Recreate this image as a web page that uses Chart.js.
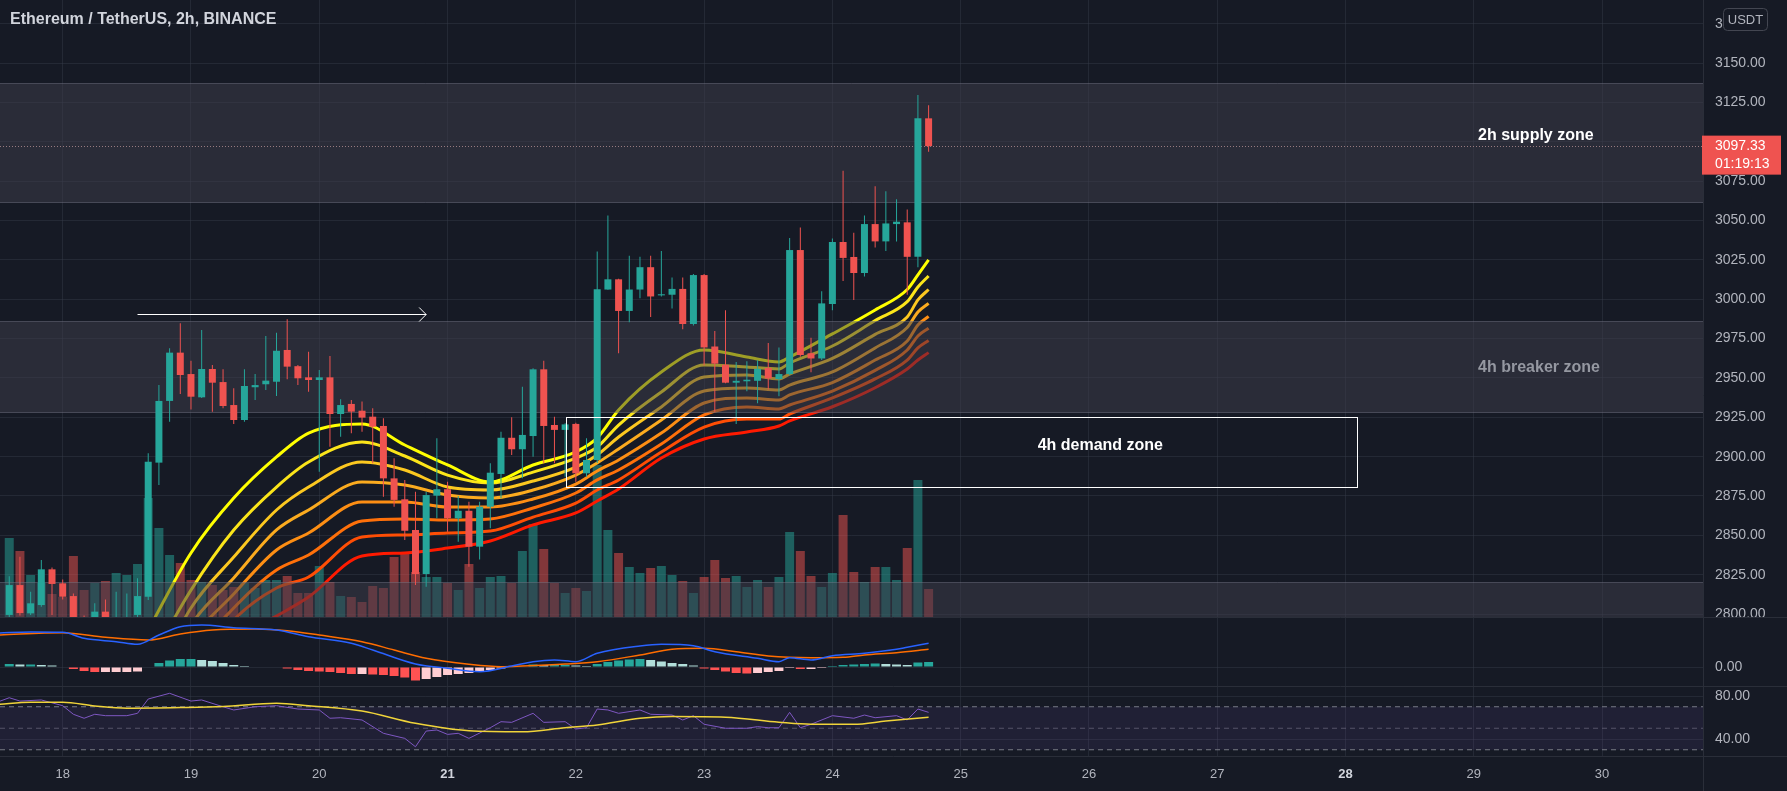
<!DOCTYPE html>
<html>
<head>
<meta charset="utf-8">
<title>ETHUSDT 2h</title>
<script src="https://cdn.jsdelivr.net/npm/chart.js@4.4.1/dist/chart.umd.min.js"></script>
<style>
  html, body { margin: 0; padding: 0; background: #161a25; overflow: hidden; }
  canvas { display: block; }
</style>
</head>
<body>
<canvas id="chart" width="1787" height="791"></canvas>
<script>
// 2h bars, bar 0 = the 18th 00:00, one step = one bar
const firstBar = -5;

const opens = [
  2799.4, 2818.4, 2800.4, 2805.7, 2828.4, 2819.5, 2811.4, 2797.0, 2797.0, 2801.5, 2792.0, 2794.0, 2799.4,
  2811.0, 2896.2, 2935.4, 2966.1, 2952.5, 2937.7, 2955.7, 2947.4, 2932.8, 2923.3, 2944.1, 2946.0, 2947.6,
  2967.8, 2957.5, 2950.4, 2948.7, 2950.4, 2927.1, 2933.5, 2929.2, 2925.4, 2919.5, 2886.2, 2872.9, 2853.4,
  2825.4, 2875.2, 2879.3, 2860.8, 2865.6, 2842.8, 2868.2, 2889.0, 2912.0, 2904.7, 2913.1, 2955.5, 2920.1,
  2917.0, 2920.8, 2889.4, 2897.9, 3006.2, 3012.7, 2992.6, 3006.2, 3020.4, 3002.5, 3002.9, 3006.6, 2984.3,
  3015.4, 2970.0, 2958.4, 2947.0, 2947.9, 2948.2, 2956.3, 2949.3, 2952.5, 3031.3, 2965.7, 2962.4, 2997.0,
  3036.4, 3026.9, 3016.7, 3047.8, 3036.8, 3047.8, 3048.9, 3027.0, 3115.0
];
const highs = [
  2824.0, 2836.4, 2814.2, 2834.3, 2829.5, 2822.0, 2813.1, 2799.0, 2806.8, 2809.3, 2814.2, 2813.0, 2822.7,
  2902.1, 2945.5, 2968.9, 2984.8, 2961.0, 2980.5, 2958.3, 2955.5, 2943.4, 2955.5, 2952.5, 2976.7, 2978.8,
  2987.3, 2958.3, 2966.7, 2955.1, 2964.0, 2936.5, 2936.0, 2935.0, 2930.7, 2924.4, 2899.0, 2885.2, 2877.7,
  2877.7, 2911.7, 2884.0, 2875.0, 2871.4, 2871.4, 2895.8, 2915.9, 2925.0, 2944.5, 2956.2, 2961.0, 2925.4,
  2921.2, 2921.6, 2911.7, 3030.3, 3053.3, 3013.0, 3027.6, 3027.0, 3027.6, 3030.7, 3013.9, 3013.9, 3016.1,
  3016.0, 2979.9, 2993.1, 2960.2, 2960.7, 2961.3, 2972.2, 2969.4, 3039.0, 3045.6, 2975.5, 3005.1, 3038.6,
  3081.7, 3042.3, 3053.3, 3071.8, 3068.6, 3063.5, 3057.0, 3129.9, 3123.3
];
const lows = [
  2797.0, 2799.0, 2799.4, 2804.6, 2799.4, 2809.3, 2794.0, 2786.0, 2794.0, 2795.0, 2789.0, 2790.0, 2797.0,
  2808.9, 2882.0, 2922.2, 2939.8, 2930.0, 2937.3, 2928.6, 2930.7, 2920.8, 2922.2, 2936.0, 2942.4, 2938.5,
  2949.2, 2945.5, 2941.3, 2890.4, 2906.3, 2912.7, 2914.9, 2915.9, 2895.8, 2874.5, 2868.2, 2847.0, 2818.4,
  2817.3, 2860.8, 2852.3, 2846.0, 2830.0, 2834.7, 2854.5, 2873.5, 2901.0, 2886.2, 2900.0, 2895.8, 2895.8,
  2887.2, 2884.0, 2887.2, 2896.0, 3006.0, 2965.7, 2985.4, 3000.7, 2988.7, 3001.8, 2994.2, 2981.0, 2983.3,
  2958.0, 2928.5, 2946.7, 2920.8, 2941.6, 2934.0, 2942.7, 2938.4, 2951.7, 2963.5, 2953.7, 2961.5, 2993.1,
  3011.6, 2999.6, 3014.5, 3032.9, 3030.7, 3036.8, 3002.9, 3020.4, 3093.8
];
const closes = [
  2818.4, 2800.6, 2806.8, 2828.4, 2819.1, 2811.0, 2797.0, 2790.0, 2801.5, 2798.0, 2797.0, 2797.5, 2811.4,
  2896.8, 2935.4, 2966.1, 2951.9, 2938.1, 2955.7, 2947.0, 2932.2, 2923.3, 2944.9, 2945.5, 2948.3, 2967.3,
  2957.2, 2949.8, 2948.7, 2950.4, 2927.1, 2932.8, 2928.6, 2924.8, 2919.0, 2886.2, 2872.5, 2852.9, 2825.4,
  2875.6, 2879.3, 2860.8, 2865.6, 2842.8, 2868.2, 2889.8, 2912.0, 2904.7, 2913.8, 2955.5, 2919.5, 2917.0,
  2920.5, 2889.4, 2897.9, 3006.4, 3012.7, 2992.6, 3006.2, 3020.4, 3001.8, 3003.2, 3006.6, 2984.3, 3015.4,
  2969.4, 2959.1, 2947.0, 2948.2, 2948.9, 2955.8, 2949.7, 2952.5, 3031.3, 2964.6, 2962.4, 2997.4, 3036.4,
  3026.3, 3016.7, 3047.8, 3036.8, 3048.2, 3049.3, 3027.0, 3115.0, 3097.33
];
const volumes = [
  79, 66, 42, 34, 23, 20, 61, 27, 34, 36, 44, 42, 53, 119, 89, 62, 54, 37, 35, 32, 27, 30, 34, 29, 37, 37,
  41, 24, 24, 51, 35, 21, 20, 15, 31, 29, 60, 63, 45, 40, 40, 34, 27, 53, 29, 40, 41, 34, 66, 93, 68, 34,
  24, 29, 26, 152, 87, 64, 50, 44, 49, 51, 42, 36, 24, 40, 57, 39, 41, 30, 37, 30, 40, 85, 66, 41, 30, 44,
  102, 45, 35, 50, 50, 37, 69, 137, 28
];

// EMA ribbon (8 lines, fastest first), read at these bars
const ribbonBars = [8, 12, 16, 20, 23, 28, 32, 36, 40, 44, 48, 50, 52, 56, 60, 64, 67, 68, 72, 76, 79, 80, 81];
const ema1 = [2789.8, 2838.8, 2873.7, 2899.8, 2915.0, 2920.8, 2907.4, 2894.7, 2883.9, 2894.7, 2903.0, 2911.9, 2929.7, 2953.8, 2967.8, 2963.3, 2960.2, 2963.3, 2978.0, 2993.2, 3006.2, 3015.5, 3025.0];
const ema2 = [2767.6, 2815.2, 2853.4, 2880.7, 2896.6, 2909.3, 2900.4, 2888.3, 2883.2, 2890.2, 2899.1, 2906.1, 2920.1, 2941.1, 2958.3, 2957.0, 2955.7, 2959.5, 2970.3, 2986.5, 2998.5, 3007.8, 3014.8];
const ema3 = [2751.7, 2803.8, 2836.2, 2866.1, 2880.7, 2896.6, 2891.5, 2880.7, 2878.8, 2884.5, 2893.4, 2901.1, 2912.5, 2931.6, 2950.6, 2951.9, 2949.4, 2952.5, 2962.4, 2977.7, 2988.8, 2999.6, 3006.2];
const ema4 = [2739.0, 2793.0, 2822.9, 2853.4, 2866.1, 2883.9, 2882.0, 2875.6, 2873.7, 2878.8, 2888.3, 2896.0, 2904.9, 2923.3, 2941.7, 2943.6, 2942.4, 2945.5, 2953.8, 2969.1, 2982.1, 2991.9, 2997.4];
const ema5 = [2726.3, 2782.2, 2812.7, 2840.7, 2851.5, 2871.2, 2871.2, 2868.0, 2868.0, 2873.1, 2882.6, 2890.9, 2897.9, 2915.0, 2934.1, 2937.3, 2936.0, 2939.2, 2947.1, 2961.4, 2973.5, 2983.7, 2989.1];
const ema6 = [2713.6, 2770.8, 2803.8, 2828.0, 2837.5, 2859.1, 2860.4, 2859.7, 2860.4, 2867.4, 2876.9, 2885.2, 2891.5, 2908.0, 2926.5, 2931.6, 2930.3, 2932.8, 2941.7, 2954.8, 2967.8, 2976.7, 2981.6];
const ema7 = [2700.8, 2759.3, 2796.2, 2816.5, 2823.5, 2848.9, 2850.2, 2851.5, 2852.7, 2861.6, 2870.5, 2878.8, 2885.2, 2903.0, 2918.8, 2923.9, 2923.9, 2927.1, 2937.3, 2949.4, 2961.4, 2969.1, 2973.8];
const ema8 = [2688.1, 2745.3, 2783.5, 2798.7, 2810.8, 2836.9, 2838.8, 2841.9, 2846.4, 2856.6, 2864.2, 2871.8, 2879.4, 2899.1, 2911.2, 2915.7, 2919.5, 2922.7, 2931.7, 2943.8, 2955.7, 2961.4, 2966.1];

// MACD pane
const macdHist = [
  3, 2.5, 2.5, 2, 1.5, 0.5, -2, -4, -5, -5, -5, -5, -4.5, 0.5, 4, 6.5, 8, 8, 7, 6, 4, 2, 1, 0.5,
  -0.5, -0.5, -1.5, -3, -4, -4.5, -5, -6, -7, -7, -7.5, -8, -9, -10.5, -13.5, -12, -10, -8, -7, -6, -5,
  -3, -1.5, -0.5, 0.5, 2.5, 2, 2, 2, 1.5, 1, 3, 5, 6.5, 7.5, 8, 7, 5.5, 4, 3, 1.5, -1.5, -3, -4.5, -6,
  -6.5, -6, -5, -4, -1, -2, -2, -1, 1, 2, 2.5, 3, 3.5, 3, 2.5, 2, 4.5, 5
];
const macdBars = [-6, -3, 0, 2, 5, 7, 9, 11, 13, 16, 20, 23, 27, 29, 33, 36, 39, 42, 44, 46, 48, 50, 54, 56, 59, 61, 65, 67, 68, 70, 72, 75, 78, 79, 81];
const macdLine = [34, 35, 34.7, 28.7, 25.3, 22.7, 32, 40.3, 42, 39.3, 37, 30.3, 23.7, 17, 3, -1.3, -4.7, 1, 5.3, 7, 5.3, 13.7, 21, 22.7, 21.3, 15.3, 8.7, 5.3, 9.3, 7, 11.3, 13.7, 17.7, 19.7, 23.7];
const signalBars = [-6, 0, 4, 8, 11, 14, 18, 21, 24, 28, 31, 34, 38, 41, 43, 47, 50, 54, 57, 60, 63, 66, 70, 73, 75, 78, 81];
const signalLine = [32, 34.3, 29.7, 27, 33, 37, 38, 36.3, 32, 25.3, 17, 8.7, 2.7, 0.3, 1, 3, 5.3, 12, 17.7, 18.7, 15.3, 11, 9.3, 9.7, 12, 14.3, 17.7];

// RSI pane
const rsiBars = [-6, -5, -4, -2, 0, 1, 2, 3, 4, 6, 7, 8, 10, 12, 13, 15, 16, 18, 20, 22, 24, 25, 26, 28, 30, 32, 33, 34, 35, 36, 37, 38, 40, 41, 42, 44, 45, 47, 48, 49, 50, 51, 52, 54, 55, 57, 58, 59, 60, 62, 64, 65, 66, 67, 68, 69, 70, 72, 74, 75, 76, 78, 79, 80, 81];
const rsiValues = [74.7, 78.4, 75.3, 76.3, 71, 63, 59.3, 63, 61.7, 61.7, 63.9, 77.2, 82.5, 75.3, 76.3, 70, 67, 70, 71, 67.9, 67, 59.3, 59.8, 57.7, 45.3, 40.6, 32.8, 47.4, 48.4, 44.3, 45.3, 40.6, 50.5, 56.1, 55.5, 63.9, 55.5, 56.1, 49.3, 50.5, 67.9, 67, 63.9, 67, 63, 62.3, 57.7, 61.7, 53.7, 50, 50, 51.5, 50.5, 50.5, 64.8, 50.5, 53.7, 61.7, 59.3, 62.3, 59.8, 61.7, 57.7, 67.9, 64.8];
const rsiMaBars = [-6, -3, 0, 3, 6, 11, 15, 20, 23, 28, 33, 38, 43, 47, 50, 54, 57, 62, 67, 70, 74, 77, 81];
const rsiMaValues = [72.3, 74.1, 74.1, 70.7, 68.6, 69.2, 70.2, 73.2, 71, 66, 54.6, 47.7, 46.8, 50.5, 53, 59.3, 60.9, 60.3, 55.6, 53.7, 53.7, 56.7, 60.3];
const rsiUpper = 70, rsiMiddle = 50, rsiLower = 30;

// axes
const dayTicks = [18, 19, 20, 21, 22, 23, 24, 25, 26, 27, 28, 29, 30];
const priceTicks = [2800, 2825, 2850, 2875, 2900, 2925, 2950, 2975, 3000, 3025, 3050, 3075, 3100, 3125, 3150, 3175];
const macdTicks = [0];
const rsiTicks = [40, 80];

// drawings
const zoneTops = [3137.7, 2986.2, 2820.5];
const zoneBottoms = [3062.0, 2928.6, 2780.0];
const demandBars = [47.05, 121.1];
const demandPrices = [2925.0, 2880.5];
const arrowBars = [7, 34];
const arrowPrice = 2990.5;
const noteTexts = ['2h supply zone', '4h breaker zone', '4h demand zone'];
const noteBars = [132.4, 132.4, 91.2];
const notePrices = [3103.8, 2956.8, 2907.0];
const lastPrice = closes[closes.length - 1];
const countdown = '01:19:13';

const FONT = '"Liberation Sans", Arial, sans-serif';
const TEXT = '#b2b5be';
const GRID = 'rgba(58,62,76,0.42)';
const UP = '#26a69a', DOWN = '#ef5350';
const X_MIN = -5.865, X_MAX = 153.44;

const bars = opens.map((o, k) => firstBar + k);
const candleColors = closes.map((c, k) => (c >= opens[k] ? UP : DOWN));
const volumeColors = closes.map((c, k) => (c >= opens[k] ? 'rgba(38,166,154,0.5)' : 'rgba(239,83,80,0.5)'));
const histColors = macdHist.map((v, k) => {
  const prev = k > 0 ? macdHist[k - 1] : v;
  if (v >= 0) return v >= prev ? '#26a69a' : '#b2dfdb';
  return v < prev ? '#ff5252' : '#ffcdd2';
});

const ribbon = [ema1, ema2, ema3, ema4, ema5, ema6, ema7, ema8];
const ribbonColors = ['#ffff00', '#fbe51a', '#fcc820', '#fbab1f', '#fd8e14', '#ff700a', '#ff4e05', '#ff1a00'];

const pts = (xs, ys) => xs.map((x, k) => ({ x, y: ys[k] }));
const flat = (v) => [{ x: X_MIN, y: v }, { x: X_MAX, y: v }];

const datasets = [
  {
    label: 'volume', type: 'bar', yAxisID: 'vol',
    data: bars.map((x, k) => ({ x, y: [0, volumes[k]] })),
    backgroundColor: volumeColors, barThickness: 9, grouped: false, inflateAmount: 0, order: 10
  },
  ...ribbon.map((vals, j) => ({
    label: 'ema' + (j + 1), type: 'line', yAxisID: 'price',
    data: pts(ribbonBars, vals),
    borderColor: ribbonColors[j], borderWidth: 3, pointRadius: 0,
    cubicInterpolationMode: 'monotone', clip: 0, order: 8
  })),
  {
    label: 'wicks', type: 'bar', yAxisID: 'price',
    data: bars.map((x, k) => ({ x, y: [lows[k], highs[k]] })),
    backgroundColor: candleColors, barThickness: 1, grouped: false, inflateAmount: 0, clip: 0, order: 3
  },
  {
    label: 'bodies', type: 'bar', yAxisID: 'price',
    data: bars.map((x, k) => ({ x, y: [opens[k], closes[k]] })),
    backgroundColor: candleColors, barThickness: 7, minBarLength: 1, grouped: false, inflateAmount: 0, clip: 0, order: 2
  },
  {
    label: 'histogram', type: 'bar', yAxisID: 'macd',
    data: bars.map((x, k) => ({ x, y: [0, macdHist[k]] })),
    backgroundColor: histColors, barThickness: 9, grouped: false, inflateAmount: 0, clip: 0, order: 7
  },
  {
    label: 'macd', type: 'line', yAxisID: 'macd', data: pts(macdBars, macdLine),
    borderColor: '#2962ff', borderWidth: 1.5, pointRadius: 0, cubicInterpolationMode: 'monotone', clip: 0, order: 6
  },
  {
    label: 'signal', type: 'line', yAxisID: 'macd', data: pts(signalBars, signalLine),
    borderColor: '#ff6d00', borderWidth: 1.5, pointRadius: 0, cubicInterpolationMode: 'monotone', clip: 0, order: 6
  },
  {
    label: 'rsiUpper', type: 'line', yAxisID: 'rsi', data: flat(rsiUpper),
    borderColor: '#787b86', borderWidth: 1, borderDash: [5, 4], pointRadius: 0, order: 9
  },
  {
    label: 'rsiLower', type: 'line', yAxisID: 'rsi', data: flat(rsiLower),
    borderColor: '#787b86', borderWidth: 1, borderDash: [5, 4], pointRadius: 0,
    fill: '-1', backgroundColor: 'rgba(126,87,194,0.1)', order: 9
  },
  {
    label: 'rsiMiddle', type: 'line', yAxisID: 'rsi', data: flat(rsiMiddle),
    borderColor: 'rgba(120,123,134,0.6)', borderWidth: 1, borderDash: [5, 4], pointRadius: 0, order: 9
  },
  {
    label: 'rsi', type: 'line', yAxisID: 'rsi', data: pts(rsiBars, rsiValues),
    borderColor: '#7e57c2', borderWidth: 1, pointRadius: 0, clip: 0, order: 6
  },
  {
    label: 'rsiMA', type: 'line', yAxisID: 'rsi', data: pts(rsiMaBars, rsiMaValues),
    borderColor: '#f0d43a', borderWidth: 1.5, pointRadius: 0, cubicInterpolationMode: 'monotone', clip: 0, order: 5
  }
];

// zones go under the candles, notes and tags on top
const overlay = {
  id: 'overlay',
  beforeDatasetDraw(chart, args) {
    if (chart.data.datasets[args.index].label !== 'wicks') return;
    const { ctx, scales: { x, price } } = chart;
    ctx.save();
    ctx.beginPath();
    ctx.rect(x.left, price.top, x.right - x.left, price.bottom - price.top);
    ctx.clip();
    zoneTops.forEach((top, k) => {
      const y1 = Math.round(price.getPixelForValue(top)) + 0.5;
      const y2 = Math.round(price.getPixelForValue(zoneBottoms[k])) + 0.5;
      ctx.fillStyle = 'rgba(62,62,76,0.5)';
      ctx.fillRect(x.left, y1, x.right - x.left, y2 - y1);
      ctx.strokeStyle = 'rgba(120,123,138,0.45)';
      ctx.lineWidth = 1;
      ctx.beginPath();
      ctx.moveTo(x.left, y1); ctx.lineTo(x.right, y1);
      ctx.moveTo(x.left, y2); ctx.lineTo(x.right, y2);
      ctx.stroke();
    });
    const yl = Math.round(price.getPixelForValue(lastPrice)) + 0.5;
    ctx.strokeStyle = 'rgba(225,175,175,0.6)';
    ctx.setLineDash([1, 2]);
    ctx.beginPath();
    ctx.moveTo(x.left, yl); ctx.lineTo(x.right, yl);
    ctx.stroke();
    ctx.restore();
  },
  afterDatasetsDraw(chart) {
    const { ctx, scales: { x, price } } = chart;
    ctx.save();
    ctx.strokeStyle = '#ffffff';
    ctx.lineWidth = 1;
    const dx1 = Math.round(x.getPixelForValue(demandBars[0])) + 0.5;
    const dx2 = Math.round(x.getPixelForValue(demandBars[1])) + 0.5;
    const dy1 = Math.round(price.getPixelForValue(demandPrices[0])) + 0.5;
    const dy2 = Math.round(price.getPixelForValue(demandPrices[1])) + 0.5;
    ctx.strokeRect(dx1, dy1, dx2 - dx1, dy2 - dy1);

    const ax1 = x.getPixelForValue(arrowBars[0]);
    const ax2 = x.getPixelForValue(arrowBars[1]);
    const ay = Math.round(price.getPixelForValue(arrowPrice)) + 0.5;
    ctx.beginPath();
    ctx.moveTo(ax1, ay); ctx.lineTo(ax2, ay);
    ctx.moveTo(ax2 - 7, ay - 7); ctx.lineTo(ax2, ay); ctx.lineTo(ax2 - 7, ay + 7);
    ctx.stroke();

    ctx.font = 'bold 16px ' + FONT;
    ctx.textAlign = 'left';
    ctx.textBaseline = 'middle';
    noteTexts.forEach((t, k) => {
      ctx.fillStyle = k === 1 ? '#9598a1' : '#ffffff';
      ctx.fillText(t, x.getPixelForValue(noteBars[k]), price.getPixelForValue(notePrices[k]));
    });
    ctx.restore();
  },
  afterDraw(chart) {
    const { ctx, chartArea: area, scales: { price, macd, rsi } } = chart;
    ctx.save();
    ctx.strokeStyle = '#2a2e39';
    ctx.lineWidth = 1;
    ctx.beginPath();
    [price.bottom, macd.bottom, rsi.bottom].forEach((y) => {
      const yy = Math.round(y) + 0.5;
      ctx.moveTo(0, yy); ctx.lineTo(chart.width, yy);
    });
    const xr = Math.round(area.right) + 0.5;
    ctx.moveTo(xr, 0); ctx.lineTo(xr, chart.height);
    ctx.stroke();

    // last price tag
    const yl = price.getPixelForValue(lastPrice);
    ctx.fillStyle = '#ef5350';
    ctx.fillRect(area.right - 1, yl - 10.5, 79, 39);
    ctx.fillStyle = '#ffffff';
    ctx.font = '14px ' + FONT;
    ctx.textAlign = 'left';
    ctx.textBaseline = 'middle';
    ctx.fillText(lastPrice.toFixed(2), area.right + 12, yl + 0.5);
    ctx.fillText(countdown, area.right + 12, yl + 18.5);

    // currency badge
    const bx = area.right + 20, by = 8, bw = 44, bh = 22;
    ctx.fillStyle = '#161a25';
    ctx.strokeStyle = '#434651';
    ctx.beginPath();
    ctx.roundRect(bx + 0.5, by + 0.5, bw, bh, 4);
    ctx.fill();
    ctx.stroke();
    ctx.fillStyle = TEXT;
    ctx.font = '13px ' + FONT;
    ctx.textAlign = 'center';
    ctx.fillText('USDT', bx + bw / 2 + 0.5, by + bh / 2 + 1);

    ctx.fillStyle = '#d1d4dc';
    ctx.font = 'bold 16px ' + FONT;
    ctx.textAlign = 'left';
    ctx.fillText('Ethereum / TetherUS, 2h, BINANCE', 10, 20);
    ctx.restore();
  }
};

const rightAxis = (ticks, weight, min, max, label) => ({
  type: 'linear', position: 'right', stack: 'panes', stackWeight: weight,
  min, max,
  grid: { color: GRID, drawTicks: false },
  border: { display: false },
  ticks: {
    color: TEXT, padding: 12, font: { family: FONT, size: 14 },
    callback: label
  },
  afterBuildTicks: (s) => { s.ticks = ticks.map((v) => ({ value: v })); },
  afterFit: (s) => { s.width = 84; s.paddingTop = 0; s.paddingBottom = 0; }
});

const isMonday = (day) => (day - 21) % 7 === 0;

new Chart(document.getElementById('chart'), {
  type: 'bar',
  data: { datasets },
  options: {
    responsive: false,
    animation: false,
    events: [],
    layout: { padding: 0, autoPadding: false },
    plugins: { legend: { display: false }, tooltip: { enabled: false } },
    scales: {
      x: {
        type: 'linear', position: 'bottom', min: X_MIN, max: X_MAX, offset: false,
        grid: { color: GRID, drawTicks: false, offset: false },
        border: { display: false },
        ticks: {
          padding: 11, maxRotation: 0, autoSkip: false,
          color: (c) => (c.tick && isMonday(18 + c.tick.value / 12) ? '#d1d4dc' : TEXT),
          font: (c) => ({ family: FONT, size: 13, weight: c.tick && isMonday(18 + c.tick.value / 12) ? 'bold' : 'normal' }),
          callback: (v) => String(18 + v / 12)
        },
        afterBuildTicks: (s) => { s.ticks = dayTicks.map((d) => ({ value: (d - 18) * 12 })); },
        afterFit: (s) => { s.height = 35; s.paddingLeft = 0; s.paddingRight = 0; }
      },
      price: rightAxis(priceTicks, 617, 2798.1, 3190.2, (v) => v.toFixed(2)),
      macd: rightAxis(macdTicks, 69, -19, 50, (v) => v.toFixed(2)),
      rsi: rightAxis(rsiTicks, 70, 24.2, 89.3, (v) => v.toFixed(2)),
      vol: { type: 'linear', position: 'left', display: false, min: -139, max: 617 }
    }
  },
  plugins: [overlay]
});
</script>
</body>
</html>
